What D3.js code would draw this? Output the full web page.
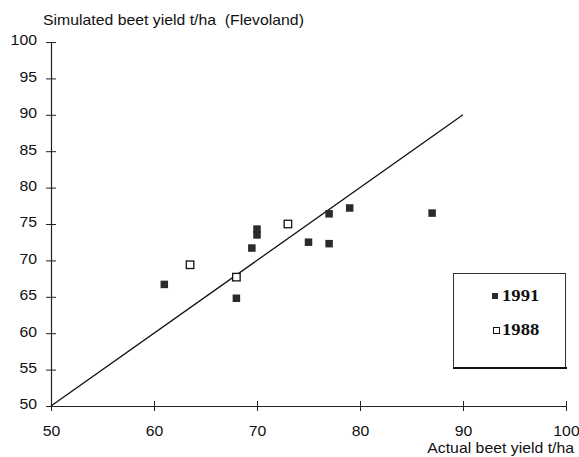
<!DOCTYPE html>
<html lang="en">
<head>
  <meta charset="UTF-8">
  <title>Beet yield</title>
  <script src="https://cdnjs.cloudflare.com/ajax/libs/d3/7.8.5/d3.min.js"></script>
  <style>
    body { margin: 0; background: #fff; }
    text { font-family: "Liberation Sans", Arial, sans-serif; fill: #111; white-space: pre; }
  </style>
</head>
<body>
  <script>
    // data
    let ticks = [50, 60, 70, 80, 90, 100];
    let yTicks = [50, 55, 60, 65, 70, 75, 80, 85, 90, 95, 100];
    let actual1991 = [61, 68, 69.5, 70, 70, 75, 77, 77, 79, 87];
    let simulated1991 = [66.7, 64.8, 71.7, 73.5, 74.3, 72.5, 72.3, 76.4, 77.2, 76.5];
    let actual1988 = [63.5, 68, 73];
    let simulated1988 = [69.4, 67.7, 75];
    let lineEnds = [50, 90];

    let width = 579, height = 457;
    // the scanned original is a little wider than tall, text too
    let stretch = 'scale(1.13,1)';

    let svg = d3.select('body')
      .append('svg')
      .attr('width', width)
      .attr('height', height);

    let x = d3.scaleLinear().domain([50, 100]).range([51, 566]);
    let y = d3.scaleLinear().domain([50, 100]).range([406, 42]);

    //axes
    let xAxis = d3.axisBottom(x).tickValues(ticks).tickSize(0).tickPadding(20);
    let yAxis = d3.axisLeft(y).tickValues(yTicks).tickSize(0).tickPadding(14);

    let gx = svg.append('g').attr('transform', 'translate(0,' + y(50) + ')').call(xAxis);
    let gy = svg.append('g').attr('transform', 'translate(' + x(50) + ',0)').call(yAxis);

    [gx, gy].forEach(function (g) {
      g.select('.domain').attr('stroke', '#222').attr('stroke-width', 1.2);
      g.selectAll('text').style('font-size', '14px').attr('fill', '#111');
    });
    gx.selectAll('.tick text').attr('transform', stretch);
    gy.selectAll('.tick text')
      .attr('x', 0).attr('dy', '0.2em')
      .attr('transform', 'translate(-14,0) ' + stretch);

    // ticks that cross the axis line
    gx.selectAll('.tick').append('line')
      .attr('y1', -5).attr('y2', 5).attr('stroke', '#222');
    gy.selectAll('.tick').append('line')
      .attr('x1', -5).attr('x2', 5).attr('stroke', '#222');

    //1:1 line
    svg.append('line')
      .attr('x1', x(lineEnds[0])).attr('y1', y(lineEnds[0]))
      .attr('x2', x(lineEnds[1])).attr('y2', y(lineEnds[1]))
      .attr('stroke', '#111').attr('stroke-width', 1.3);

    //points
    let s = 7.5;
    svg.selectAll('rect.p91')
      .data(actual1991)
      .enter()
      .append('rect')
      .attr('class', 'p91')
      .attr('x', d => x(d) - s / 2)
      .attr('y', (d, i) => y(simulated1991[i]) - s / 2)
      .attr('width', s).attr('height', s)
      .attr('fill', '#2a2a2a');

    svg.selectAll('rect.p88')
      .data(actual1988)
      .enter()
      .append('rect')
      .attr('class', 'p88')
      .attr('x', d => x(d) - s / 2)
      .attr('y', (d, i) => y(simulated1988[i]) - s / 2)
      .attr('width', s).attr('height', s)
      .attr('fill', '#fff').attr('stroke', '#111').attr('stroke-width', 1.3);

    //titles
    svg.append('text')
      .attr('transform', 'translate(43,25) ' + stretch)
      .style('font-size', '14px')
      .text('Simulated beet yield t/ha  (Flevoland)');
    svg.append('text')
      .attr('transform', 'translate(574,453) ' + stretch)
      .attr('text-anchor', 'end')
      .style('font-size', '14px')
      .text('Actual beet yield t/ha');

    //legend
    let legend = svg.append('g');
    legend.append('rect')
      .attr('x', 453.5).attr('y', 273.5).attr('width', 112).attr('height', 94)
      .attr('fill', 'none').attr('stroke', '#333').attr('stroke-width', 1);
    legend.append('line')
      .attr('x1', 453).attr('x2', 567).attr('y1', 368).attr('y2', 368)
      .attr('stroke', '#111').attr('stroke-width', 2);
    legend.append('rect')
      .attr('x', 492).attr('y', 293).attr('width', 6).attr('height', 6)
      .attr('fill', '#2a2a2a');
    legend.append('rect')
      .attr('x', 493.5).attr('y', 327.5).attr('width', 6).attr('height', 6)
      .attr('fill', '#fff').attr('stroke', '#111').attr('stroke-width', 1);
    legend.append('text')
      .attr('transform', 'translate(502,301) ' + stretch)
      .style('font-family', '"Liberation Serif", "Times New Roman", serif')
      .style('font-weight', 'bold').style('font-size', '16.5px')
      .text('1991');
    legend.append('text')
      .attr('transform', 'translate(502,335) ' + stretch)
      .style('font-family', '"Liberation Serif", "Times New Roman", serif')
      .style('font-weight', 'bold').style('font-size', '16.5px')
      .text('1988');
  </script>
</body>
</html>
